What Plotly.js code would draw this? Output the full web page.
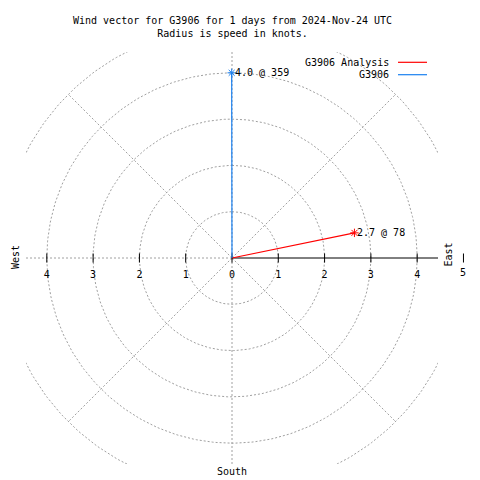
<!DOCTYPE html>
<html><head><meta charset="utf-8">
<script src="https://cdn.plot.ly/plotly-3.0.1.min.js"></script>
<style>html,body{margin:0;padding:0;background:#fff}</style>
</head><body><div id="chart" style="width:480px;height:480px"></div>
<script>
// ---- data ----
const seriesNames = ['G3906 Analysis', 'G3906'];
const speeds = [2.7, 4.0];          // knots
const directions = [78.4, 359.9];   // degrees (compass), labels show integer part
const seriesColors = ['#ff0000', '#1a80f0'];
const ringRadii = [1, 2, 3, 4, 5];
const spokeAngles = [0, 45, 135, 180, 225, 270, 315];
const tickValues = [-4, -3, -2, -1, 0, 1, 2, 3, 4, 5];
const tickLabels = ['4', '3', '2', '1', '0', '1', '2', '3', '4', '5'];
const titleLines = ['Wind vector for G3906 for 1 days from 2024-Nov-24 UTC', 'Radius is speed in knots.'];
const compassLabels = ['East', 'West', 'South'];
const rMax = 5;
const axisRange = 4.45;

// ---- helpers ----
const FONT = {family: 'DejaVu Sans Mono, Liberation Mono, monospace', size: 10, color: '#000'};
const GRID = {color: '#a0a0a0', width: 1, dash: '2px,2px'};
const toXY = (r, deg) => [r * Math.sin(deg * Math.PI / 180), r * Math.cos(deg * Math.PI / 180)];
const L = 26, T = 52, W = 412, H = 412;
const xToPaper = v => (v + axisRange) / (2 * axisRange);
const pxToPaperX = px => (px - L) / W;
const pxToPaperY = py => 1 - (py - T) / H;

const traces = [];
const annotations = [];
const shapes = [];
// rings
ringRadii.forEach(r => {
  const xs = [], ys = [];
  for (let a = 0; a <= 360; a += 1) { const p = toXY(r, a); xs.push(p[0]); ys.push(p[1]); }
  traces.push({x: xs, y: ys, mode: 'lines', line: GRID, hoverinfo: 'skip'});
});
// spokes
spokeAngles.forEach(a => {
  const p = toXY(rMax, a);
  traces.push({x: [0, p[0]], y: [0, p[1]], mode: 'lines', line: GRID, hoverinfo: 'skip'});
});
// east radial axis (solid)
{
  const p = toXY(rMax, 90);
  traces.push({x: [0, p[0]], y: [0, p[1]], mode: 'lines', line: {color: '#000', width: 1}, hoverinfo: 'skip'});
}
// tick marks + labels
const inX = [], inLab = [];
tickValues.forEach((v, i) => {
  if (Math.abs(v) <= axisRange) { inX.push(v); inLab.push(tickLabels[i]); }
  else {
    // tick beyond the plotted range: drawn outside the frame
    const px = xToPaper(v);
    shapes.push({type: 'line', xref: 'paper', yref: 'paper', x0: px, x1: px,
      y0: pxToPaperY(253.5), y1: pxToPaperY(262.5), line: {color: '#000', width: 1}});
    annotations.push({x: px, y: pxToPaperY(272), xref: 'paper', yref: 'paper', xanchor: 'center', yanchor: 'middle',
      showarrow: false, text: tickLabels[i], font: FONT});
  }
});
traces.push({
  x: inX, y: inX.map(() => 0), mode: 'markers', cliponaxis: false,
  marker: {symbol: 'line-ns-open', size: 6.5, color: '#000', line: {color: '#000', width: 1}},
  hoverinfo: 'skip'
});
traces.push({
  x: inX, y: inX.map(() => -0.37), mode: 'text', cliponaxis: false,
  text: inLab, textposition: 'middle center', textfont: FONT, hoverinfo: 'skip'
});

// data vectors
speeds.forEach((s, i) => {
  const p = toXY(s, directions[i]);
  traces.push({
    x: [0, p[0]], y: [0, p[1]], mode: 'lines', name: seriesNames[i],
    line: {color: seriesColors[i], width: 1.2}, hoverinfo: 'skip'
  });
  traces.push({
    x: [p[0]], y: [p[1]], mode: 'markers', cliponaxis: false,
    marker: {symbol: 'asterisk-open', size: 7, color: seriesColors[i], line: {color: seriesColors[i], width: 1}},
    hoverinfo: 'skip'
  });
  annotations.push({
    x: p[0], y: p[1], xref: 'x', yref: 'y', showarrow: false, xanchor: 'left', yanchor: 'middle',
    xshift: 1, text: s.toFixed(1) + ' @ ' + Math.floor(directions[i]), font: FONT
  });
});

// title
annotations.push({
  x: 0.5, y: pxToPaperY(13), xref: 'paper', yref: 'paper', xanchor: 'center', yanchor: 'top',
  showarrow: false, text: titleLines.join('<br>'), font: FONT
});
// compass labels
const compassPos = [[448, 254.5, -90], [15, 257, -90], [232, 471, 0]];
compassLabels.forEach((t, i) => {
  annotations.push({x: pxToPaperX(compassPos[i][0]), y: pxToPaperY(compassPos[i][1]), xref: 'paper', yref: 'paper',
    xanchor: 'center', yanchor: 'middle', showarrow: false, text: t, textangle: compassPos[i][2], font: FONT});
});
// custom legend (text right, line sample on right)
const legendY = [62.3, 74.7];
seriesNames.forEach((n, i) => {
  const py = pxToPaperY(legendY[i]);
  annotations.push({
    x: pxToPaperX(391), y: py, xref: 'paper', yref: 'paper', xanchor: 'right', yanchor: 'middle',
    showarrow: false, text: n, font: FONT
  });
  shapes.push({
    type: 'line', xref: 'paper', yref: 'paper', x0: pxToPaperX(398), x1: pxToPaperX(427), y0: py, y1: py,
    line: {color: seriesColors[i], width: 1.2}
  });
});

const layout = {
  width: 480, height: 480,
  margin: {l: L, r: 480 - L - W, t: T, b: 480 - T - H, pad: 0},
  paper_bgcolor: '#fff', plot_bgcolor: '#fff',
  showlegend: false,
  xaxis: {range: [-axisRange, axisRange], visible: false, fixedrange: true},
  yaxis: {range: [-axisRange, axisRange], visible: false, fixedrange: true},
  annotations: annotations, shapes: shapes,
  font: FONT
};
Plotly.newPlot('chart', traces, layout, {staticPlot: true, displayModeBar: false});
</script>
</body></html>
